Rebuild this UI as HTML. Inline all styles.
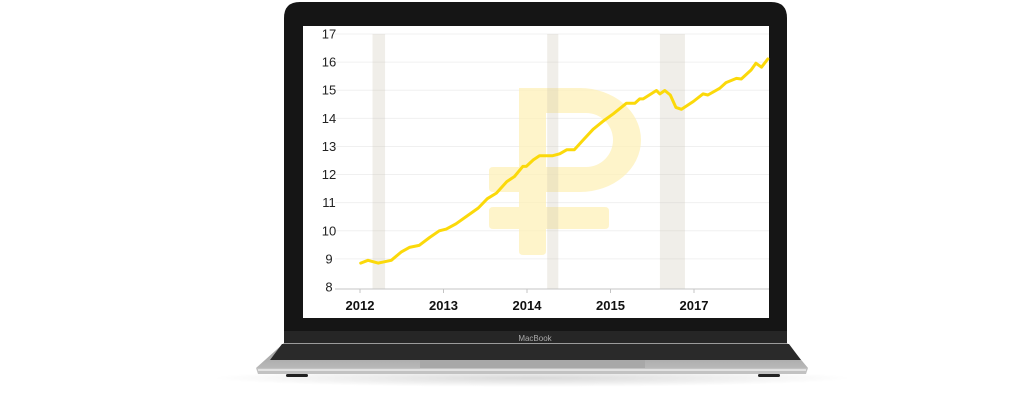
<!DOCTYPE html>
<html><head><meta charset="utf-8">
<style>
html,body{margin:0;padding:0;background:#fff;width:1019px;height:411px;overflow:hidden}
svg{display:block}
text{font-family:"Liberation Sans",sans-serif}
</style></head>
<body>
<svg id="root" width="1019" height="411" viewBox="0 0 1019 411" xmlns="http://www.w3.org/2000/svg">
  <defs>
    <linearGradient id="baseG" x1="0" y1="0" x2="0" y2="1">
      <stop offset="0" stop-color="#9a9a9a"/><stop offset="1" stop-color="#b8b8b8"/>
    </linearGradient>
    <radialGradient id="shadowG" cx="0.5" cy="0.5" r="0.5">
      <stop offset="0" stop-color="#000" stop-opacity="0.15"/><stop offset="1" stop-color="#000" stop-opacity="0"/>
    </radialGradient>
  </defs>
  <ellipse cx="532" cy="378" rx="320" ry="9" fill="url(#shadowG)"/>
  <!-- lid -->
  <path d="M284,18 Q284,2 300,2 L771,2 Q787,2 787,18 L787,344 L284,344 Z" fill="#151515"/>
  <rect x="284" y="331" width="503" height="13" fill="#262626"/>
  <text x="535" y="341" font-size="8" fill="#aaa" text-anchor="middle">MacBook</text>
  <!-- base -->
  <path d="M284,343 L787,343 L808,368 L256,368 Z" fill="url(#baseG)"/>
  <path d="M282,344 L789,344 L801,360 L270,360 Z" fill="#2a2a2a"/>
  <rect x="420" y="360" width="225" height="8" fill="#a8a8a8"/>
  <path d="M256,368 L808,368 L806,374 L258,374 Z" fill="#c2c2c2"/>
  <rect x="258" y="369" width="548" height="2" fill="#e2e2e2"/>
  <rect x="286" y="374" width="22" height="3" rx="1.5" fill="#222"/>
  <rect x="758" y="374" width="22" height="3" rx="1.5" fill="#222"/>
  <!-- screen -->
  <rect x="303" y="26" width="466" height="292" fill="#fff"/>
  <g id="chart"></g>
</svg>
<script>
const yTicks = [8, 9, 10, 11, 12, 13, 14, 15, 16, 17];
const xTickMonths = [0, 12, 24, 36, 48];
const xTickLabels = ["2012", "2013", "2014", "2015", "2017"];
const bandStarts = [1.8, 26.9, 43.1];
const bandEnds = [3.6, 28.5, 46.7];
const months = [0.1,1.15,2.6,4.5,5.9,7.1,8.5,10,11.4,12.4,13.8,15.3,17,18.3,19.6,21.1,22.2,23.4,23.9,24.9,25.8,27.7,28.7,29.7,30.8,32,33.5,34.9,36.4,38.3,39.5,40.2,40.7,42.6,43.1,43.8,44.6,45.4,46.2,47.9,49.3,50,51.7,52.6,54.1,54.8,56.2,56.9,57.7,58.6];
const values = [8.85,8.95,8.85,8.95,9.24,9.41,9.48,9.76,10.0,10.06,10.25,10.51,10.81,11.14,11.34,11.75,11.93,12.29,12.29,12.52,12.67,12.67,12.74,12.88,12.88,13.21,13.61,13.89,14.16,14.54,14.54,14.69,14.69,14.99,14.87,14.99,14.83,14.39,14.32,14.6,14.87,14.83,15.07,15.27,15.42,15.4,15.72,15.96,15.82,16.11];

const NS = "http://www.w3.org/2000/svg";
const g = document.getElementById('chart');
const xScale = m => 360 + m * (83.5 / 12);
const yScale = v => 287 - (v - 8) * (253 / 9);
function mk(tag, attrs, parent) {
  const e = document.createElementNS(NS, tag);
  for (const k in attrs) e.setAttribute(k, attrs[k]);
  (parent || g).appendChild(e);
  return e;
}
yTicks.forEach(v => {
  if (v > 8) {
    const l = mk('line', {x1: 335, x2: 769, y1: yScale(v), y2: yScale(v), stroke: '#f0f0f0', 'stroke-width': 1});
    
    
  }
  const t = mk('text', {x: 329, y: yScale(v) + 4.5, 'font-size': 13, fill: '#222', 'text-anchor': 'middle'});
  t.textContent = v;
  
  
});
const rub = mk('path', {d: 'M519,88 L580,88 A61,52 0 0 1 580,192 L546,192 L546,207 L605,207 Q609,207 609,211 L609,225 Q609,229 605,229 L546,229 L546,251 Q546,255 542,255 L523,255 Q519,255 519,251 L519,229 L493,229 Q489,229 489,225 L489,211 Q489,207 493,207 L519,207 L519,192 L493,192 Q489,192 489,188 L489,171 Q489,167 493,167 L519,167 Z M546,113 L546,167 L586,167 A27,27 0 0 0 586,113 Z', fill: '#fdf0b8', 'fill-opacity': 0.75, 'fill-rule': 'evenodd'});


bandStarts.forEach((s, i) => {
  const r = mk('rect', {x: xScale(s), y: 34, width: xScale(bandEnds[i]) - xScale(s), height: 255, fill: '#c8c2b0', 'fill-opacity': 0.28});
  
  
});
const ax = mk('line', {x1: 335, x2: 769, y1: 289, y2: 289, stroke: '#c4c4c4', 'stroke-width': 1});


xTickMonths.forEach((m, i) => {
  const tk = mk('line', {x1: xScale(m), x2: xScale(m), y1: 289, y2: 293, stroke: '#c4c4c4'});
  
  
  const t = mk('text', {x: xScale(m), y: 310, 'font-size': 13, 'font-weight': 'bold', fill: '#111', 'text-anchor': 'middle'});
  t.textContent = xTickLabels[i];
  
  
});
const pts = months.map((m, i) => xScale(m).toFixed(1) + ',' + yScale(values[i]).toFixed(1)).join(' ');
const pl = mk('polyline', {points: pts, fill: 'none', stroke: '#fbd90a', 'stroke-width': 3, 'stroke-linejoin': 'round', 'stroke-linecap': 'round'});


</script>
</body></html>
